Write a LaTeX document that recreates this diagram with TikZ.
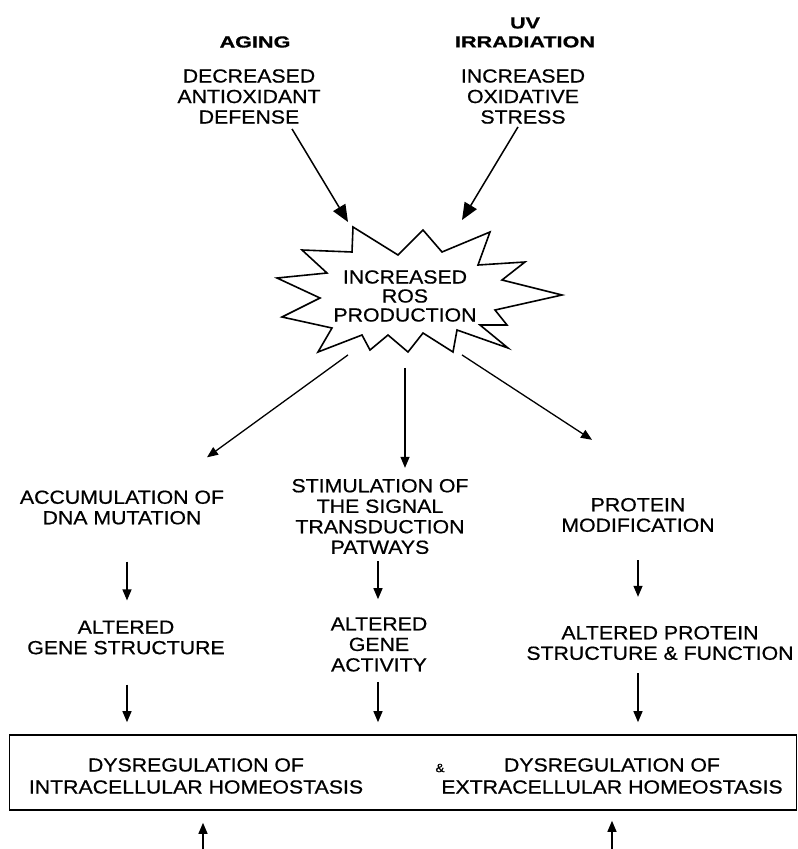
\documentclass[tikz,border=0pt]{standalone}
\usepackage{fontspec}
\setmainfont{Liberation Sans}[FakeStretch=1.12,FakeBold=0.6]
\newfontfamily\headfont{Liberation Sans}[UprightFont={* Bold},FakeStretch=1.35,FakeBold=0.8]
\usetikzlibrary{positioning,arrows.meta}

\begin{document}
\begin{tikzpicture}[x=1pt,y=-1pt,
  txt/.style={align=center,inner sep=0pt,font=\fontsize{19}{20.5}\selectfont},
  head/.style={align=center,inner sep=0pt,font=\headfont\fontsize{16}{19}\selectfont},
  bigarr/.style={line width=1.5pt,-{Triangle[length=17pt,width=14pt]}},
  arr/.style={line width=1.3pt,-{Triangle[length=11pt,width=9pt]}}]
\useasboundingbox (0,0) rectangle (798,849);
%\draw[] (0,0) grid (798,849);
% causes
\node [head] (aging) at (255,42) {AGING};
\node [txt] (dec) at (249,96.5) {DECREASED\\ANTIOXIDANT\\DEFENSE};
\node [head] (uv) at (525,32.5) {UV\\IRRADIATION};
\node [txt] (inc) at (523,96.5) {INCREASED\\OXIDATIVE\\STRESS};
% the star
\draw [line width=1.6pt,line join=miter] (353,227) -- (398,255) -- (423,230) -- (442,252)
  -- (490,232) -- (478,265) -- (525,262) -- (502,280) -- (562,295) -- (495,310)
  -- (507,325) -- (480,325) -- (508,348) -- (457,330) -- (453,352) -- (423,333)
  -- (408,352) -- (388,335) -- (370,350) -- (362,335) -- (318,352) -- (332,328)
  -- (282,317) -- (320,298) -- (277,278) -- (327,273) -- (302,250) -- (352,252) -- cycle;
\node [txt,font=\fontsize{19}{19}\selectfont] (ros) at (405,296) {INCREASED\\ROS\\PRODUCTION};
\coordinate (lhit) at (348,222);
\coordinate (rhit) at (462,220);
\draw [bigarr] ([shift={(43,5)}]dec.south) -- (lhit);
\draw [bigarr] ([shift={(-5,3)}]inc.south) -- (rhit);
% second row
\node [txt] (accum) at (122,507.5) {ACCUMULATION OF\\DNA MUTATION};
\node [txt] (stim) at (380,516.5) {STIMULATION OF\\THE SIGNAL\\TRANSDUCTION\\PATWAYS};
\node [txt] (protmod) at (638,515) {PROTEIN\\MODIFICATION};
\draw [arr] ([shift={(-57,33)}]ros.south) -- ([shift={(85,-33)}]accum.north);
\draw [arr] ([shift={(0,46)}]ros.south) -- ([shift={(25,-11)}]stim.north);
\draw [arr] ([shift={(57,33)}]ros.south) -- ([shift={(-46,-58)}]protmod.north);
% third row
\node [txt] (altgene) at (126,637.5) {ALTERED\\GENE STRUCTURE};
\node [txt] (altact) at (379,644.5) {ALTERED\\GENE\\ACTIVITY};
\node [txt] (altprot) at (660,643) {ALTERED PROTEIN\\STRUCTURE \& FUNCTION};
\draw [arr] ([shift={(5,37)}]accum.south) -- ([shift={(5,-20)}]accum.south |- altgene.north);
\draw [arr] ([shift={(-2,7)}]stim.south) -- ([shift={(-2,-18)}]stim.south |- altact.north);
\draw [arr] ([shift={(0,28)}]protmod.south) -- ([shift={(0,-29)}]protmod.south |- altprot.north);
% the box
\node [draw,line width=1.6pt,minimum width=787pt,minimum height=75pt,inner sep=0pt] (box) at (403,772.5) {};
\node [txt,font=\fontsize{19}{22}\selectfont] (dysin) at (196,776) {DYSREGULATION OF\\INTRACELLULAR HOMEOSTASIS};
\node [txt,font=\fontsize{19}{22}\selectfont] (dysex) at (612,776) {DYSREGULATION OF\\EXTRACELLULAR HOMEOSTASIS};
\node [inner sep=0pt,font=\fontsize{12}{12}\selectfont] (amp) at (440,768) {\&};
\draw [arr] ([shift={(1,30)}]altgene.south) -- ([shift={(1,-12)}]altgene.south |- box.north);
\draw [arr] ([shift={(-1,10)}]altact.south) -- ([shift={(-1,-12)}]altact.south |- box.north);
\draw [arr] ([shift={(-22,13)}]altprot.south) -- ([shift={(-22,-12)}]altprot.south |- box.north);
\coordinate (inlow) at (203,849);
\coordinate (exlow) at (612,849);
\draw [arr] (inlow) -- ([shift={(0,12)}]inlow |- box.south);
\draw [arr] (exlow) -- ([shift={(0,10)}]exlow |- box.south);
\end{tikzpicture}
\end{document}
